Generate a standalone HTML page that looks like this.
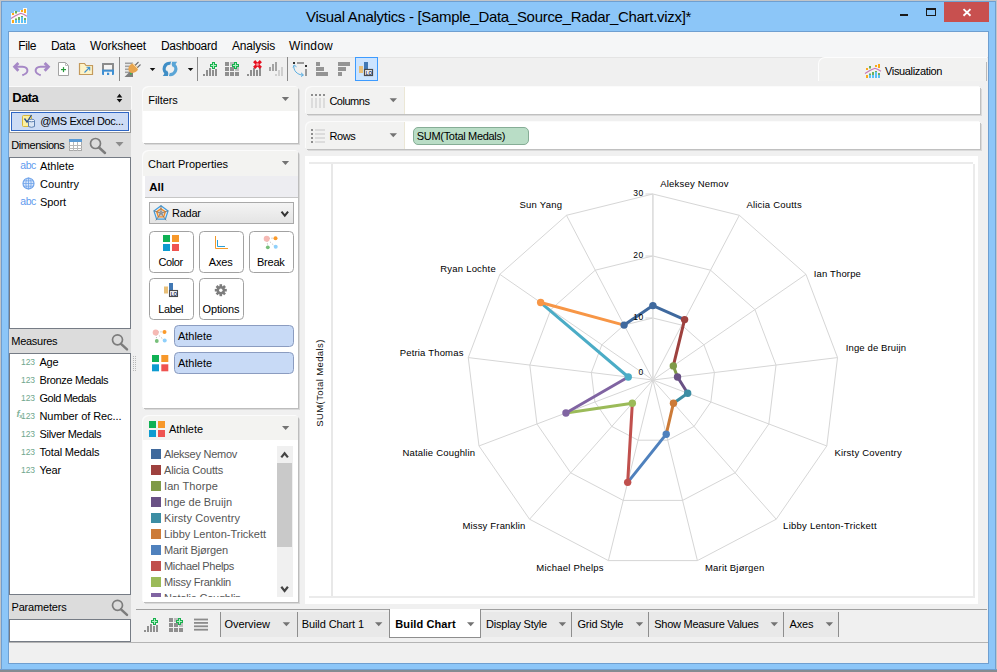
<!DOCTYPE html>
<html>
<head>
<meta charset="utf-8">
<title>Visual Analytics</title>
<style>
*{box-sizing:border-box;margin:0;padding:0}
html,body{width:997px;height:672px;overflow:hidden;background:#8cc6f8;font-family:"Liberation Sans",sans-serif;font-size:11px;color:#000}
div,span,svg{position:absolute}
svg{left:0;top:0;overflow:visible}
</style>
</head>
<body>
<!-- chrome -->
<div style="left:0px;top:0px;width:997px;height:672px;background:#8cc6f8;box-shadow:inset 0 0 0 1px #c2c4c7,inset 0 0 0 2px #6f9fd0;"></div><div style="left:0px;top:669px;width:997px;height:1px;background:#6f9fd0;"></div><div style="left:0px;top:670px;width:997px;height:2px;background:#858b91;"></div><div style="left:8px;top:31px;width:981px;height:633px;background:#6f9fd0;"></div><div style="left:9px;top:32px;width:979px;height:631px;background:#f0f0f0;"></div><span style="left:306.00px;top:9.00px;font-size:15px;line-height:15px;letter-spacing:-0.305px;color:#000;white-space:nowrap;">Visual Analytics - [Sample_Data_Source_Radar_Chart.vizx]*</span><svg width="40" height="32" viewBox="0 0 40 32">
<path d="M11 13 H14 V11 H17 V12 H20 V10 H23 V8 H27 V24 H11 Z" fill="#fbfaf6"/>
<rect x="12" y="13" width="2" height="2" fill="#fba919"/><rect x="12" y="20" width="2" height="3" fill="#fba919"/>
<rect x="15" y="11" width="2" height="2.500000" fill="#6aaf5c"/><rect x="15" y="18.500000" width="2" height="1.500000" fill="#6aaf5c"/><rect x="15" y="20" width="2" height="3" fill="#5bc0f5"/>
<rect x="18" y="17" width="2" height="3" fill="#6aaf5c"/><rect x="18" y="20" width="2" height="3" fill="#5bc0f5"/>
<rect x="21" y="10" width="2" height="2" fill="#fba919"/><rect x="21" y="16" width="2" height="1" fill="#6aaf5c"/><rect x="21" y="17" width="2" height="6" fill="#5bc0f5"/>
<rect x="24" y="9" width="2" height="4" fill="#fba919"/><rect x="24" y="18" width="2" height="2" fill="#6aaf5c"/><rect x="24" y="20" width="2" height="3" fill="#5bc0f5"/>
<path d="M11 18.500000 L15 16 L18 14.500000 L21 13.300000 L24 14.500000 L27 16.300000" fill="none" stroke="#c777b5" stroke-width="1.100000"/>
</svg><div style="left:900px;top:14px;width:8px;height:2px;background:#1a1a1a;"></div><div style="left:926px;top:8px;width:10px;height:8px;background:transparent;border:1px solid #1a1a1a;border-top-width:2px;"></div><div style="left:944px;top:2px;width:45px;height:20px;background:#c8504f;"></div><svg width="997" height="32"><path d="M963.500000 9.100000 L970.500000 15.700000 M970.500000 9.100000 L963.500000 15.700000" stroke="#fff" stroke-width="1.900000" fill="none"/></svg><div style="left:9px;top:32px;width:979px;height:25px;background:#f5f6f7;"></div><span style="left:18.20px;top:40.00px;font-size:12px;line-height:12px;letter-spacing:-0.334px;color:#000;white-space:nowrap;">File</span><span style="left:51.00px;top:40.00px;font-size:12px;line-height:12px;letter-spacing:-0.337px;color:#000;white-space:nowrap;">Data</span><span style="left:90.00px;top:40.00px;font-size:12px;line-height:12px;letter-spacing:-0.126px;color:#000;white-space:nowrap;">Worksheet</span><span style="left:161.00px;top:40.00px;font-size:12px;line-height:12px;letter-spacing:-0.300px;color:#000;white-space:nowrap;">Dashboard</span><span style="left:232.00px;top:40.00px;font-size:12px;line-height:12px;letter-spacing:-0.210px;color:#000;white-space:nowrap;">Analysis</span><span style="left:289.00px;top:40.00px;font-size:12px;line-height:12px;letter-spacing:0.220px;color:#000;white-space:nowrap;">Window</span><div style="left:9px;top:57px;width:979px;height:29px;background:#f0f0f0;border-top:1px solid #e4e4e4;"></div><svg style="left:0;top:0" width="997" height="90" viewBox="0 0 997 90">
<!-- undo -->
<g fill="none" stroke="#a688c6"><path d="M18.400000 62.900000 L14.600000 66.800000 L18.400000 70.800000" stroke-width="2.800000"/><path d="M14.500000 66.800000 H22.500000 C26 66.800000 27.600000 68.800000 27.400000 71 C27.100000 73.400000 24.800000 74.400000 22.300000 75.200000" stroke-width="2"/></g>
<!-- redo -->
<g transform="translate(63.050000,0) scale(-1,1)"><g fill="none" stroke="#a688c6"><path d="M18.400000 62.900000 L14.600000 66.800000 L18.400000 70.800000" stroke-width="2.800000"/><path d="M14.500000 66.800000 H22.500000 C26 66.800000 27.600000 68.800000 27.400000 71 C27.100000 73.400000 24.800000 74.400000 22.300000 75.200000" stroke-width="2"/></g></g>
<!-- new doc -->
<path d="M58.500000 62.500000 H65.500000 L68.500000 65.500000 V75.500000 H58.500000 Z" fill="#fff" stroke="#a3a3a3" stroke-width="1"/>
<path d="M65.500000 62.500000 V65.500000 H68.500000" fill="none" stroke="#bdbdbd" stroke-width="1"/>
<rect x="61" y="69" width="5" height="1.200000" fill="#2a9a3c"/><rect x="62.900000" y="67.100000" width="1.200000" height="5" fill="#2a9a3c"/>
<!-- folder -->
<path d="M79.500000 63.500000 H84.500000 L86 65.500000 H92.500000 V74.500000 H79.500000 Z" fill="#fdf3c8" stroke="#c49a5c" stroke-width="1.2"/>
<path d="M84.5 72.5 L89.5 67.5 M86.5 67.3 H89.7 V70.5" stroke="#3b8fd0" stroke-width="1.1" fill="none"/>
<!-- save -->
<rect x="102" y="63" width="12" height="12" rx="1" fill="#3f8fd2"/>
<path d="M102 64 Q102 63 103 63 H113 Q114 63 114 64 V69.5 H102 Z" fill="#8b8b8b"/>
<rect x="104" y="65" width="8" height="4.500000" fill="#f4f4f4"/>
<rect x="104" y="71.700000" width="8" height="3.300000" fill="#f4f4f4"/>
<rect x="107" y="72.700000" width="2.200000" height="2.300000" fill="#3f8fd2"/>
<!-- sep -->
<rect x="119" y="57" width="1" height="24" fill="#8a8a8a"/>
<!-- plug icon -->
<g>
<rect x="125" y="62.5" width="8" height="1.6" fill="#a0a0a0"/>
<rect x="125" y="65.5" width="6" height="1.6" fill="#a0a0a0"/>
<rect x="125" y="68.5" width="5" height="1.6" fill="#a0a0a0"/>
<rect x="125" y="71.5" width="5" height="1.6" fill="#a0a0a0"/>
<path d="M124.500000 77 L131 70.500000 L133 72.500000 V77 Z" fill="#7d7d7d"/>
<path d="M134.500000 66 L138.500000 62 M137 68 L140.500000 64.500000" stroke="#6e6e6e" stroke-width="1.1"/>
<path d="M129 66.5 Q131.500000 62.500000 134 64 L137.500000 67.500000 Q139 70 135.500000 72 Q131.500000 74 129.500000 72 Q127.500000 69.500000 129 66.5 Z" fill="#e8a54e"/>
<path d="M132.500000 63.500000 L138 69" stroke="#f6d9a8" stroke-width="1"/>
<rect x="130" y="73" width="1.5" height="1.5" fill="#2fc043"/>
</g>
<path d="M149.800000 68 H155.300000 L152.550000 71 Z" fill="#111"/>
<!-- refresh -->
<path d="M170.800000 63.400000 A5.500000 5.500000 0 0 0 167.200000 73.700000" fill="none" stroke="#3f8ec6" stroke-width="3.200000"/>
<path d="M162.800000 76 H169.900000 L166.900000 70.300000 Z" fill="#3f8ec6"/>
<path d="M169.200000 74.400000 A5.500000 5.500000 0 0 0 172.800000 64.100000" fill="none" stroke="#5aa5d6" stroke-width="3.200000"/>
<path d="M177.200000 61.800000 H170.100000 L173.100000 67.500000 Z" fill="#5aa5d6"/>
<path d="M171.700000 61.500000 L170.900000 65 M169.100000 72.800000 L168.300000 76.300000" stroke="#f0f0f0" stroke-width="1"/>
<path d="M187.800000 68 H193.300000 L190.550000 71 Z" fill="#111"/>
<rect x="197" y="57" width="1" height="24" fill="#8a8a8a"/>
<!-- chart+plus -->
<g fill="#8f8f8f">
<rect x="203" y="74" width="2" height="2"/><rect x="206" y="70" width="2" height="6"/><rect x="209" y="68" width="2" height="8"/><rect x="212" y="70" width="2" height="6"/><rect x="215" y="69" width="2" height="7"/>
</g>
<path d="M212 62 h3 v2 h2 v3 h-2 v2 h-3 v-2 h-2 v-3 h2 z" fill="#19b04e"/><path d="M213 63 h1 v2 h2 v1 h-2 v2 h-1 v-2 h-2 v-1 h2 z" fill="#aef0c2"/>
<!-- grid+plus -->
<g fill="#8f8f8f">
<rect x="225" y="62" width="4" height="4"/><rect x="230" y="62" width="4" height="4" fill="#bdbdbd"/>
<rect x="225" y="67" width="4" height="4"/><rect x="230" y="67" width="4" height="4"/><rect x="235" y="67" width="4" height="4" fill="#bdbdbd"/>
<rect x="225" y="72" width="4" height="4"/><rect x="230" y="72" width="4" height="4"/><rect x="235" y="72" width="4" height="4"/>
</g>
<path d="M234 62 h3 v2 h2 v3 h-2 v2 h-3 v-2 h-2 v-3 h2 z" fill="#19b04e"/><path d="M235 63 h1 v2 h2 v1 h-2 v2 h-1 v-2 h-2 v-1 h2 z" fill="#aef0c2"/>
<!-- chart + red x -->
<g fill="#8f8f8f">
<rect x="247" y="74" width="2" height="2"/><rect x="250" y="70" width="2" height="6"/><rect x="253" y="68" width="2" height="8"/><rect x="256" y="70" width="2" height="6"/><rect x="259" y="68" width="2" height="8"/>
</g>
<path d="M255.200000 62.200000 L259.800000 66.800000 M259.800000 62.200000 L255.200000 66.800000" stroke="#e60f1f" stroke-width="3" stroke-linecap="square"/><rect x="256.300000" y="63.300000" width="2.400000" height="2.400000" fill="#f99aa2"/>
<!-- dim chart -->
<g fill="#a3a3a3">
<rect x="269" y="67" width="2" height="4"/><rect x="272" y="64" width="2" height="7"/><rect x="275" y="62" width="2" height="9"/>
</g>
<g fill="#cfcfcf">
<rect x="275" y="74" width="2" height="2"/><rect x="278" y="70" width="2" height="6"/><rect x="281" y="67" width="2" height="9"/>
</g>
<rect x="287" y="57" width="1" height="24" fill="#8a8a8a"/>
<!-- swap -->
<rect x="293" y="62" width="2" height="2" fill="#333"/><rect x="297" y="62" width="7" height="2" fill="#9a9a9a"/>
<rect x="305" y="65" width="2" height="2" fill="#333"/><rect x="305" y="69" width="2" height="7" fill="#9a9a9a"/>
<path d="M294 65.500000 C293 70 297 75 303 75" fill="none" stroke="#59aee2" stroke-width="1"/>
<path d="M293 67.500000 L294.200000 65 L296.500000 66.800000 M301 72.800000 L303.500000 75 L301 76.500000" fill="none" stroke="#59aee2" stroke-width="1"/>
<!-- sort asc -->
<g fill="#949494">
<rect x="316" y="62" width="4" height="4"/><rect x="316" y="67" width="8" height="4"/><rect x="316" y="72" width="12" height="4"/>
<rect x="338" y="62" width="12" height="4"/><rect x="338" y="67" width="8" height="4"/><rect x="338" y="72" width="4" height="4"/>
</g>
<!-- selected label btn -->
<rect x="355.500000" y="57.500000" width="22" height="23" fill="#cce4ff" stroke="#3d9bff" stroke-width="1"/>
<rect x="359" y="66" width="4" height="7" fill="#e8bf78"/>
<rect x="364" y="62" width="4" height="8" fill="#4178b4"/>
<rect x="364.500000" y="69.500000" width="8" height="6" fill="#f4f4f4" stroke="#4a4a4a" stroke-width="1.2"/>
<text x="365.800000" y="74.600000" font-family="Liberation Sans" font-size="4.5" font-weight="bold" fill="#1a2f5a">LO</text>
</svg>
<div style="left:818px;top:57px;width:169px;height:24px;background:#f2f2f1;border-radius:7px 0 0 0;border-top:1px solid #fdfdfd;border-left:1px solid #fdfdfd;"></div><div style="left:986px;top:62px;width:1px;height:19px;background:#b9b9b9;"></div><svg width="997" height="90" viewBox="0 0 997 90">
<g transform="translate(854,55)">
<rect x="12" y="13" width="2" height="2" fill="#fba919"/><rect x="12" y="20" width="2" height="3" fill="#fba919"/>
<rect x="15" y="11" width="2" height="2.500000" fill="#6aaf5c"/><rect x="15" y="18.500000" width="2" height="1.500000" fill="#6aaf5c"/><rect x="15" y="20" width="2" height="3" fill="#5bc0f5"/>
<rect x="18" y="17" width="2" height="3" fill="#6aaf5c"/><rect x="18" y="20" width="2" height="3" fill="#5bc0f5"/>
<rect x="21" y="10" width="2" height="2" fill="#fba919"/><rect x="21" y="16" width="2" height="1" fill="#6aaf5c"/><rect x="21" y="17" width="2" height="6" fill="#5bc0f5"/>
<rect x="24" y="9" width="2" height="4" fill="#fba919"/><rect x="24" y="18" width="2" height="2" fill="#6aaf5c"/><rect x="24" y="20" width="2" height="3" fill="#5bc0f5"/>
<path d="M11 18.500000 L15 16 L18 14.500000 L21 13.300000 L24 14.500000 L27 16.300000" fill="none" stroke="#c777b5" stroke-width="1.100000"/>
</g></svg><span style="left:885.00px;top:65.50px;font-size:11px;line-height:11px;letter-spacing:-0.350px;color:#000;white-space:nowrap;">Visualization</span><div style="left:136px;top:609px;width:851px;height:1px;background:#a0a0a0;"></div><div style="left:9px;top:642px;width:979px;height:1px;background:#b4b4b4;"></div>
<!-- left -->
<div style="left:9px;top:86px;width:123px;height:1px;background:#fafafa;"></div><div style="left:131px;top:86px;width:1px;height:23px;background:#f9f9f9;"></div><div style="left:9px;top:87px;width:122px;height:22px;background:#dcdcdc;"></div><span style="left:12.30px;top:91.00px;font-size:13px;line-height:13px;font-weight:bold;letter-spacing:-0.544px;color:#000;white-space:nowrap;">Data</span><svg width="997" height="672"><path d="M116.700000 97.400000 L119.500000 93.800000 L122.300000 97.400000 Z M116.700000 99 L119.500000 102.600000 L122.300000 99 Z" fill="#111"/></svg><div style="left:9px;top:109px;width:122px;height:24px;background:#dcdcdc;"></div><div style="left:9px;top:110px;width:122px;height:23px;background:#fff;border:1px solid #9a9a9a;"></div><div style="left:11px;top:112px;width:118px;height:19px;background:#cddcf5;border:1px solid #2f66c4;"></div><svg width="997" height="672">
<g transform="translate(-8,0)"><rect x="30.500000" y="115.500000" width="9" height="11" rx="1" fill="#fdf0a0" stroke="#d9b83a" stroke-width="1"/>
<path d="M32.500000 118.500000 L35 122 L39.500000 115" fill="none" stroke="#2b4f8c" stroke-width="1.300000"/>
<path d="M36.500000 120.500000 V126.500000 Q39.500000 128.200000 42.500000 126.500000 V120.500000" fill="#dbe6f5" stroke="#5c7fb0" stroke-width="1"/>
<ellipse cx="39.500000" cy="120.500000" rx="3" ry="1.300000" fill="#eef3fb" stroke="#5c7fb0" stroke-width="1"/>
</g></svg><span style="left:40.30px;top:115.50px;font-size:11px;line-height:11px;letter-spacing:-0.400px;color:#000;white-space:nowrap;">@MS Excel Doc...</span><div style="left:9px;top:133px;width:122px;height:24px;background:#dcdcdc;"></div><span style="left:11.30px;top:139.50px;font-size:11px;line-height:11px;letter-spacing:-0.446px;color:#000;white-space:nowrap;">Dimensions</span><svg width="997" height="672">
<rect x="69.500000" y="139.500000" width="12" height="11" fill="#fff" stroke="#a9a9a9" stroke-width="1"/>
<rect x="69" y="139" width="13" height="3" fill="#5b9bd5"/>
<path d="M73.500000 142 V151 M77.500000 142 V151 M69 145.500000 H82 M69 148.500000 H82" stroke="#b9b9b9" stroke-width="1" fill="none"/>
<circle cx="95.500000" cy="143.500000" r="5" fill="none" stroke="#7c7c7c" stroke-width="1.700000"/>
<path d="M99 147.500000 L105 153" stroke="#7c7c7c" stroke-width="2.500000" stroke-linecap="round"/>
<path d="M115.500000 142 H123.500000 L119.500000 146.500000 Z" fill="#8c8c8c"/>
</svg><div style="left:9px;top:157px;width:122px;height:172px;background:#fff;border:1px solid #767c85;"></div><span style="left:20.30px;top:159.75px;font-size:10.5px;line-height:10.5px;letter-spacing:-0.476px;color:#5f9bee;white-space:nowrap;">abc</span><span style="left:40.00px;top:160.50px;font-size:11px;line-height:11px;letter-spacing:-0.035px;color:#000;white-space:nowrap;">Athlete</span><svg width="997" height="672"><circle cx="28.500000" cy="183.5" r="5.500000" fill="#dbe8fb" stroke="#6fa3ea" stroke-width="1.200000"/><path d="M23 183.5 H34 M23.800000 180.8 H33.200000 M23.800000 186.2 H33.200000 M28.500000 178 V189" stroke="#6fa3ea" stroke-width="0.800000" fill="none"/><ellipse cx="28.500000" cy="183.5" rx="2.600000" ry="5.500000" fill="none" stroke="#6fa3ea" stroke-width="0.800000"/></svg><span style="left:40.00px;top:178.50px;font-size:11px;line-height:11px;letter-spacing:0.069px;color:#000;white-space:nowrap;">Country</span><span style="left:20.30px;top:195.75px;font-size:10.5px;line-height:10.5px;letter-spacing:-0.476px;color:#5f9bee;white-space:nowrap;">abc</span><span style="left:40.00px;top:196.50px;font-size:11px;line-height:11px;letter-spacing:-0.058px;color:#000;white-space:nowrap;">Sport</span><div style="left:9px;top:329px;width:122px;height:24px;background:#dcdcdc;"></div><span style="left:11.30px;top:335.50px;font-size:11px;line-height:11px;letter-spacing:-0.287px;color:#000;white-space:nowrap;">Measures</span><svg width="997" height="672">
<circle cx="117.500000" cy="339.800000" r="5" fill="none" stroke="#7c7c7c" stroke-width="1.700000"/>
<path d="M121 343.800000 L127 349.300000" stroke="#7c7c7c" stroke-width="2.500000" stroke-linecap="round"/>
</svg><div style="left:9px;top:353px;width:122px;height:242px;background:#fff;border:1px solid #767c85;"></div><span style="left:21.00px;top:357.75px;font-size:8.5px;line-height:8.5px;letter-spacing:-0.060px;color:#6fa78d;white-space:nowrap;">123</span><span style="left:39.50px;top:356.50px;font-size:11px;line-height:11px;letter-spacing:-0.257px;color:#000;white-space:nowrap;">Age</span><span style="left:21.00px;top:375.75px;font-size:8.5px;line-height:8.5px;letter-spacing:-0.060px;color:#6fa78d;white-space:nowrap;">123</span><span style="left:39.50px;top:374.50px;font-size:11px;line-height:11px;letter-spacing:-0.359px;color:#000;white-space:nowrap;">Bronze Medals</span><span style="left:21.00px;top:393.75px;font-size:8.5px;line-height:8.5px;letter-spacing:-0.060px;color:#6fa78d;white-space:nowrap;">123</span><span style="left:39.50px;top:392.50px;font-size:11px;line-height:11px;letter-spacing:-0.477px;color:#000;white-space:nowrap;">Gold Medals</span><span style="left:21.00px;top:411.75px;font-size:8.5px;line-height:8.5px;letter-spacing:-0.060px;color:#6fa78d;white-space:nowrap;">123</span><span style="left:39.50px;top:410.50px;font-size:11px;line-height:11px;letter-spacing:-0.071px;color:#000;white-space:nowrap;">Number of Rec...</span><span style="left:16.60px;top:408.75px;font-size:9.5px;line-height:9.5px;font-weight:bold;color:#7fb39b;white-space:nowrap;font-style:italic;">f</span><span style="left:19.30px;top:413.00px;font-size:6px;line-height:6px;font-weight:bold;color:#7fb39b;white-space:nowrap;">x</span><span style="left:21.00px;top:429.75px;font-size:8.5px;line-height:8.5px;letter-spacing:-0.060px;color:#6fa78d;white-space:nowrap;">123</span><span style="left:39.50px;top:428.50px;font-size:11px;line-height:11px;letter-spacing:-0.325px;color:#000;white-space:nowrap;">Silver Medals</span><span style="left:21.00px;top:447.75px;font-size:8.5px;line-height:8.5px;letter-spacing:-0.060px;color:#6fa78d;white-space:nowrap;">123</span><span style="left:39.50px;top:446.50px;font-size:11px;line-height:11px;letter-spacing:-0.162px;color:#000;white-space:nowrap;">Total Medals</span><span style="left:21.00px;top:465.75px;font-size:8.5px;line-height:8.5px;letter-spacing:-0.060px;color:#6fa78d;white-space:nowrap;">123</span><span style="left:39.50px;top:464.50px;font-size:11px;line-height:11px;letter-spacing:-0.206px;color:#000;white-space:nowrap;">Year</span><svg width="997" height="672"><rect x="133" y="356" width="1" height="1" fill="#b8b8b8"/><rect x="135" y="356" width="1" height="1" fill="#b8b8b8"/><rect x="133" y="358" width="1" height="1" fill="#b8b8b8"/><rect x="135" y="358" width="1" height="1" fill="#b8b8b8"/><rect x="133" y="360" width="1" height="1" fill="#b8b8b8"/><rect x="135" y="360" width="1" height="1" fill="#b8b8b8"/><rect x="133" y="362" width="1" height="1" fill="#b8b8b8"/><rect x="135" y="362" width="1" height="1" fill="#b8b8b8"/><rect x="133" y="364" width="1" height="1" fill="#b8b8b8"/><rect x="135" y="364" width="1" height="1" fill="#b8b8b8"/><rect x="133" y="366" width="1" height="1" fill="#b8b8b8"/><rect x="135" y="366" width="1" height="1" fill="#b8b8b8"/><rect x="133" y="368" width="1" height="1" fill="#b8b8b8"/><rect x="135" y="368" width="1" height="1" fill="#b8b8b8"/><rect x="133" y="370" width="1" height="1" fill="#b8b8b8"/><rect x="135" y="370" width="1" height="1" fill="#b8b8b8"/></svg><div style="left:9px;top:595px;width:122px;height:24px;background:#dcdcdc;"></div><span style="left:11.50px;top:601.50px;font-size:11px;line-height:11px;letter-spacing:-0.185px;color:#000;white-space:nowrap;">Parameters</span><svg width="997" height="672">
<circle cx="117.500000" cy="605.300000" r="5" fill="none" stroke="#7c7c7c" stroke-width="1.700000"/>
<path d="M121 609.300000 L127 614.800000" stroke="#7c7c7c" stroke-width="2.500000" stroke-linecap="round"/>
</svg><div style="left:9px;top:619px;width:122px;height:23px;background:#fff;border:1px solid #767c85;"></div>
<!-- mid -->
<div style="left:143px;top:87px;width:155px;height:56px;background:#fff;border-radius:6px 2px 0 0;box-shadow:1px 1px 0 #bdbdbd,2px 2px 0 #d9d9d9,-1px -1px 0 #fbfbfb;"></div><div style="left:143px;top:87px;width:155px;height:24px;background:#f3f3f1;border-radius:6px 2px 0 0;"></div><span style="left:148.30px;top:94.50px;font-size:11px;line-height:11px;letter-spacing:-0.063px;color:#000;white-space:nowrap;">Filters</span><svg width="997" height="672"><path d="M281.8 97 H289.1 L285.45 101 Z" fill="#737373"/></svg><div style="left:143px;top:151px;width:155px;height:257px;background:#fff;border-radius:6px 2px 0 0;box-shadow:1px 1px 0 #bdbdbd,2px 2px 0 #d9d9d9,-1px -1px 0 #fbfbfb;"></div><div style="left:143px;top:151px;width:155px;height:25px;background:#f3f3f1;border-radius:6px 2px 0 0;"></div><span style="left:148.00px;top:158.50px;font-size:11px;line-height:11px;letter-spacing:-0.005px;color:#000;white-space:nowrap;">Chart Properties</span><svg width="997" height="672"><path d="M281.8 161 H289.1 L285.45 165 Z" fill="#737373"/></svg><div style="left:145px;top:176px;width:153px;height:22px;background:#ededf1;border-bottom:1px solid #c6c6c6;"></div><span style="left:149.30px;top:182.25px;font-size:11.5px;line-height:11.5px;font-weight:bold;letter-spacing:-0.065px;color:#000;white-space:nowrap;">All</span><div style="left:149px;top:202px;width:145px;height:22px;background:linear-gradient(#f4f4f4,#e4e4e4);border:1px solid #a9a9a9;"></div><svg width="997" height="672"><g transform="translate(153,204.500000)">
<polygon points="8.00,1.30 15.04,6.41 12.35,14.69 3.65,14.69 0.96,6.41" fill="none" stroke="#3f9bdc" stroke-width="1.200000"/>
<polygon points="8.00,4.20 12.28,7.31 10.65,12.34 5.35,12.34 3.72,7.31" fill="none" stroke="#f28c28" stroke-width="1.400000"/>
<path d="M8.00 8.70 L8.00 1.10 M8.00 8.70 L15.23 6.35 M8.00 8.70 L13.23 15.90 M8.00 8.70 L2.77 15.90 M8.00 8.70 L0.77 6.35 " stroke="#707070" stroke-width="0.800000" fill="none"/>
<polygon points="8.00,6.50 10.09,8.02 9.29,10.48 6.71,10.48 5.91,8.02" fill="none" stroke="#808080" stroke-width="0.700000"/>
</g>
<path d="M281.500000 211.700000 L284.800000 215.700000 L288.100000 211.700000" fill="none" stroke="#333" stroke-width="2"/>
</svg><span style="left:172.00px;top:207.50px;font-size:11px;line-height:11px;letter-spacing:-0.252px;color:#000;white-space:nowrap;">Radar</span><div style="left:149px;top:231px;width:45px;height:42px;background:#fff;border:1px solid #a2a2a2;border-radius:4.500000px;"></div><div style="left:199px;top:231px;width:45px;height:42px;background:#fff;border:1px solid #a2a2a2;border-radius:4.500000px;"></div><div style="left:249px;top:231px;width:45px;height:42px;background:#fff;border:1px solid #a2a2a2;border-radius:4.500000px;"></div><div style="left:149px;top:278px;width:45px;height:42px;background:#fff;border:1px solid #a2a2a2;border-radius:4.500000px;"></div><div style="left:199px;top:278px;width:45px;height:42px;background:#fff;border:1px solid #a2a2a2;border-radius:4.500000px;"></div><svg width="997" height="672"><rect x="163" y="235" width="7" height="7" fill="#0fb154"/><rect x="172" y="235" width="7" height="7" fill="#f7982a"/><rect x="163" y="244" width="7" height="7" fill="#0d9bd0"/><rect x="172" y="244" width="7" height="7" fill="#ef5350"/></svg><span style="left:158.40px;top:256.50px;font-size:11px;line-height:11px;letter-spacing:-0.357px;color:#000;white-space:nowrap;">Color</span><svg width="997" height="672"><path d="M215.500000 236 V248.500000 H228" fill="none" stroke="#f39a2b" stroke-width="1"/><path d="M217.500000 240 V246.500000 H225" fill="none" stroke="#2a9fd6" stroke-width="1"/></svg><span style="left:208.80px;top:256.50px;font-size:11px;line-height:11px;letter-spacing:-0.189px;color:#000;white-space:nowrap;">Axes</span><svg width="997" height="672"><g transform="translate(263.5,235.5)">
<path d="M3 3 L11 2.500000 M3 3 L4.500000 11.500000 M3 3 L11.500000 11" stroke="#9a9a9a" stroke-width="0.800000" stroke-dasharray="1 1.500000" fill="none"/>
<circle cx="3.200000" cy="3.200000" r="3" fill="#f6b9b4"/>
<circle cx="12" cy="2.800000" r="2" fill="#fb9a2a"/>
<circle cx="4.300000" cy="11.800000" r="1.900000" fill="#77bf7a"/>
<circle cx="12.200000" cy="11.200000" r="2" fill="#8fd0fb"/>
</g></svg><span style="left:257.00px;top:256.50px;font-size:11px;line-height:11px;letter-spacing:-0.227px;color:#000;white-space:nowrap;">Break</span><svg width="997" height="672">
<rect x="164" y="286.500000" width="4" height="7" fill="#e8bf78"/>
<rect x="169" y="283" width="4" height="8" fill="#4178b4"/>
<rect x="169.500000" y="290.500000" width="8" height="6" fill="#f4f4f4" stroke="#4a4a4a" stroke-width="1.100000"/>
<text x="170.800000" y="295.500000" font-family="Liberation Sans" font-size="4.500000" font-weight="bold" fill="#1a2f5a">LO</text>
</svg><span style="left:158.30px;top:303.50px;font-size:11px;line-height:11px;letter-spacing:-0.442px;color:#000;white-space:nowrap;">Label</span><svg width="997" height="672"><g transform="translate(220.800000,290.200000)" fill="#7d7d7d"><rect x="-1.300000" y="-6" width="2.600000" height="3.200000" transform="rotate(0)"/><rect x="-1.300000" y="-6" width="2.600000" height="3.200000" transform="rotate(45)"/><rect x="-1.300000" y="-6" width="2.600000" height="3.200000" transform="rotate(90)"/><rect x="-1.300000" y="-6" width="2.600000" height="3.200000" transform="rotate(135)"/><rect x="-1.300000" y="-6" width="2.600000" height="3.200000" transform="rotate(180)"/><rect x="-1.300000" y="-6" width="2.600000" height="3.200000" transform="rotate(225)"/><rect x="-1.300000" y="-6" width="2.600000" height="3.200000" transform="rotate(270)"/><rect x="-1.300000" y="-6" width="2.600000" height="3.200000" transform="rotate(315)"/><circle r="4.200000"/><circle r="1.700000" fill="#fff"/></g></svg><span style="left:202.50px;top:303.50px;font-size:11px;line-height:11px;letter-spacing:-0.144px;color:#000;white-space:nowrap;">Options</span><div style="left:174px;top:325px;width:120px;height:22px;background:#c8daf6;border:1px solid #8b9cc0;border-radius:4.500000px;"></div><div style="left:174px;top:352px;width:120px;height:22px;background:#c8daf6;border:1px solid #8b9cc0;border-radius:4.500000px;"></div><span style="left:178.00px;top:330.50px;font-size:11px;line-height:11px;letter-spacing:-0.035px;color:#000;white-space:nowrap;">Athlete</span><span style="left:178.00px;top:357.50px;font-size:11px;line-height:11px;letter-spacing:-0.035px;color:#000;white-space:nowrap;">Athlete</span><svg width="997" height="672"><g transform="translate(152.5,329.2)">
<path d="M3 3 L11 2.500000 M3 3 L4.500000 11.500000 M3 3 L11.500000 11" stroke="#9a9a9a" stroke-width="0.800000" stroke-dasharray="1 1.500000" fill="none"/>
<circle cx="3.200000" cy="3.200000" r="3" fill="#f6b9b4"/>
<circle cx="12" cy="2.800000" r="2" fill="#fb9a2a"/>
<circle cx="4.300000" cy="11.800000" r="1.900000" fill="#77bf7a"/>
<circle cx="12.200000" cy="11.200000" r="2" fill="#8fd0fb"/>
</g></svg><svg width="997" height="672"><rect x="152" y="355" width="7" height="7" fill="#0fb154"/><rect x="161.3" y="355" width="7" height="7" fill="#f7982a"/><rect x="152" y="364.3" width="7" height="7" fill="#0d9bd0"/><rect x="161.3" y="364.3" width="7" height="7" fill="#ef5350"/></svg><div style="left:143px;top:416px;width:155px;height:186px;background:#fff;border-radius:6px 2px 0 0;box-shadow:1px 1px 0 #bdbdbd,2px 2px 0 #d9d9d9,-1px -1px 0 #fbfbfb;"></div><div style="left:143px;top:416px;width:155px;height:24px;background:#f3f3f1;border-radius:6px 2px 0 0;"></div><svg width="997" height="672"><rect x="149" y="421" width="7" height="7" fill="#0fb154"/><rect x="158" y="421" width="7" height="7" fill="#f7982a"/><rect x="149" y="430" width="7" height="7" fill="#0d9bd0"/><rect x="158" y="430" width="7" height="7" fill="#ef5350"/></svg><span style="left:169.00px;top:423.50px;font-size:11px;line-height:11px;letter-spacing:-0.035px;color:#000;white-space:nowrap;">Athlete</span><svg width="997" height="672"><path d="M282 426 H289.3 L285.65 430 Z" fill="#737373"/></svg><div style="left:0;top:444px;width:276px;height:153px;overflow:hidden"><div style="left:151px;top:5px;width:10px;height:10px;background:#40699c;"></div><span style="left:164.00px;top:4.50px;font-size:11px;line-height:11px;letter-spacing:-0.262px;color:#555;white-space:nowrap;">Aleksey Nemov</span><div style="left:151px;top:21px;width:10px;height:10px;background:#9e413e;"></div><span style="left:164.00px;top:20.50px;font-size:11px;line-height:11px;letter-spacing:-0.164px;color:#555;white-space:nowrap;">Alicia Coutts</span><div style="left:151px;top:37px;width:10px;height:10px;background:#7f9a48;"></div><span style="left:164.00px;top:36.50px;font-size:11px;line-height:11px;letter-spacing:0.100px;color:#555;white-space:nowrap;">Ian Thorpe</span><div style="left:151px;top:53px;width:10px;height:10px;background:#695185;"></div><span style="left:164.00px;top:52.50px;font-size:11px;line-height:11px;letter-spacing:0.009px;color:#555;white-space:nowrap;">Inge de Bruijn</span><div style="left:151px;top:69px;width:10px;height:10px;background:#3c8da3;"></div><span style="left:164.00px;top:68.50px;font-size:11px;line-height:11px;letter-spacing:0.095px;color:#555;white-space:nowrap;">Kirsty Coventry</span><div style="left:151px;top:85px;width:10px;height:10px;background:#cc7b38;"></div><span style="left:164.00px;top:84.50px;font-size:11px;line-height:11px;letter-spacing:-0.014px;color:#555;white-space:nowrap;">Libby Lenton-Trickett</span><div style="left:151px;top:101px;width:10px;height:10px;background:#4f81bd;"></div><span style="left:164.00px;top:100.50px;font-size:11px;line-height:11px;letter-spacing:-0.155px;color:#555;white-space:nowrap;">Marit Bjørgen</span><div style="left:151px;top:117px;width:10px;height:10px;background:#c0504d;"></div><span style="left:164.00px;top:116.50px;font-size:11px;line-height:11px;letter-spacing:-0.328px;color:#555;white-space:nowrap;">Michael Phelps</span><div style="left:151px;top:133px;width:10px;height:10px;background:#9bbb59;"></div><span style="left:164.00px;top:132.50px;font-size:11px;line-height:11px;letter-spacing:-0.235px;color:#555;white-space:nowrap;">Missy Franklin</span><div style="left:151px;top:149px;width:10px;height:10px;background:#8064a2;"></div><span style="left:164.00px;top:148.50px;font-size:11px;line-height:11px;letter-spacing:-0.232px;color:#555;white-space:nowrap;">Natalie Coughlin</span></div><div style="left:277px;top:446px;width:16px;height:151px;background:#f0f0f0;"></div><div style="left:277px;top:463px;width:15px;height:84px;background:#c9c9c9;"></div><svg width="997" height="672"><path d="M281.300000 457.400000 L284.600000 453.200000 L287.900000 457.400000" fill="none" stroke="#444" stroke-width="2.200000"/><path d="M281.300000 586.800000 L284.600000 591 L287.900000 586.800000" fill="none" stroke="#444" stroke-width="2.200000"/></svg>
<!-- right -->
<div style="left:306px;top:87px;width:674px;height:27px;background:#fff;border-radius:6px 0 0 0;box-shadow:1px 1px 0 #c0c0c0,2px 2px 0 #dadada,-1px -1px 0 #fbfbfb;"></div><div style="left:306px;top:87px;width:98px;height:27px;background:#f2f2f1;border-radius:6px 0 0 0;"></div><div style="left:404px;top:87px;width:1px;height:27px;background:#ebe7d6;"></div><div style="left:306px;top:122px;width:674px;height:27px;background:#fff;border-radius:6px 0 0 0;box-shadow:1px 1px 0 #c0c0c0,2px 2px 0 #dadada,-1px -1px 0 #fbfbfb;"></div><div style="left:306px;top:122px;width:98px;height:27px;background:#f2f2f1;border-radius:6px 0 0 0;"></div><div style="left:404px;top:122px;width:1px;height:27px;background:#ebe7d6;"></div><svg width="997" height="672"><rect x="311" y="94" width="2" height="2" fill="#8e8e8e"/><rect x="311" y="98" width="2" height="10" fill="#dcdcdc"/><rect x="315" y="94" width="2" height="2" fill="#8e8e8e"/><rect x="315" y="98" width="2" height="10" fill="#dcdcdc"/><rect x="319" y="94" width="2" height="2" fill="#8e8e8e"/><rect x="319" y="98" width="2" height="10" fill="#dcdcdc"/><rect x="323" y="94" width="2" height="2" fill="#8e8e8e"/><rect x="323" y="98" width="2" height="10" fill="#dcdcdc"/><rect x="311" y="129" width="2" height="2" fill="#8e8e8e"/><rect x="315" y="129" width="10" height="2" fill="#dcdcdc"/><rect x="311" y="133" width="2" height="2" fill="#8e8e8e"/><rect x="315" y="133" width="10" height="2" fill="#dcdcdc"/><rect x="311" y="137" width="2" height="2" fill="#8e8e8e"/><rect x="315" y="137" width="10" height="2" fill="#dcdcdc"/><rect x="311" y="141" width="2" height="2" fill="#8e8e8e"/><rect x="315" y="141" width="10" height="2" fill="#dcdcdc"/></svg><span style="left:329.40px;top:95.50px;font-size:11px;line-height:11px;letter-spacing:-0.486px;color:#000;white-space:nowrap;">Columns</span><span style="left:329.40px;top:130.50px;font-size:11px;line-height:11px;letter-spacing:-0.376px;color:#000;white-space:nowrap;">Rows</span><svg width="997" height="672"><path d="M389.6 98.3 H397 L393.3 102.3 Z" fill="#737373"/></svg><svg width="997" height="672"><path d="M389.6 133.2 H397 L393.3 137.2 Z" fill="#737373"/></svg><div style="left:413px;top:127px;width:116px;height:18px;background:#b9ddc6;border:1px solid #86ad96;border-radius:5px;"></div><span style="left:416.80px;top:130.50px;font-size:11px;line-height:11px;letter-spacing:-0.313px;color:#000;white-space:nowrap;">SUM(Total Medals)</span><div style="left:305px;top:156px;width:673px;height:448px;background:#fff;"></div><div style="left:309px;top:162px;width:664px;height:2px;background:#ebebeb;"></div><div style="left:309px;top:596px;width:666px;height:2px;background:#ebebeb;"></div><div style="left:973px;top:164px;width:2px;height:432px;background:#ebebeb;"></div><div style="left:331px;top:164px;width:1.5px;height:432px;background:#e8e8e8;"></div><span style="left:320px;top:382.500000px;font-size:9.500000px;line-height:10px;white-space:nowrap;transform:translate(-50%,-50%) rotate(-90deg);letter-spacing:0.390000px;color:#111">SUM(Total Medals)</span><svg width="997" height="672"><polygon points="652.90,318.00 681.71,325.10 703.92,344.78 714.45,372.53 710.87,401.99 694.01,426.41 667.74,440.20 638.06,440.20 611.79,426.41 594.93,401.99 591.35,372.53 601.88,344.78 624.09,325.10" fill="none" stroke="#d6d6d6" stroke-width="1"/><polygon points="652.90,256.00 710.53,270.20 754.95,309.56 776.00,365.05 768.84,423.97 735.13,472.82 682.58,500.40 623.22,500.40 570.67,472.82 536.96,423.97 529.80,365.05 550.85,309.56 595.27,270.20" fill="none" stroke="#d6d6d6" stroke-width="1"/><polygon points="652.90,194.00 739.34,215.31 805.97,274.34 837.54,357.58 826.81,445.96 776.24,519.22 697.41,560.60 608.39,560.60 529.56,519.22 478.99,445.96 468.26,357.58 499.83,274.34 566.46,215.31" fill="none" stroke="#d6d6d6" stroke-width="1"/><line x1="652.90" y1="380.00" x2="739.34" y2="215.31" stroke="#d6d6d6" stroke-width="1"/><line x1="652.90" y1="380.00" x2="805.97" y2="274.34" stroke="#d6d6d6" stroke-width="1"/><line x1="652.90" y1="380.00" x2="837.54" y2="357.58" stroke="#d6d6d6" stroke-width="1"/><line x1="652.90" y1="380.00" x2="826.81" y2="445.96" stroke="#d6d6d6" stroke-width="1"/><line x1="652.90" y1="380.00" x2="776.24" y2="519.22" stroke="#d6d6d6" stroke-width="1"/><line x1="652.90" y1="380.00" x2="697.41" y2="560.60" stroke="#d6d6d6" stroke-width="1"/><line x1="652.90" y1="380.00" x2="608.39" y2="560.60" stroke="#d6d6d6" stroke-width="1"/><line x1="652.90" y1="380.00" x2="529.56" y2="519.22" stroke="#d6d6d6" stroke-width="1"/><line x1="652.90" y1="380.00" x2="478.99" y2="445.96" stroke="#d6d6d6" stroke-width="1"/><line x1="652.90" y1="380.00" x2="468.26" y2="357.58" stroke="#d6d6d6" stroke-width="1"/><line x1="652.90" y1="380.00" x2="499.83" y2="274.34" stroke="#d6d6d6" stroke-width="1"/><line x1="652.90" y1="380.00" x2="566.46" y2="215.31" stroke="#d6d6d6" stroke-width="1"/><line x1="652.90" y1="380.00" x2="652.90" y2="194.00" stroke="#dcdcdc" stroke-width="1.600000"/><line x1="645.40" y1="318.00" x2="652.90" y2="318.00" stroke="#d6d6d6" stroke-width="1"/><line x1="645.40" y1="256.00" x2="652.90" y2="256.00" stroke="#d6d6d6" stroke-width="1"/><line x1="645.40" y1="194.00" x2="652.90" y2="194.00" stroke="#d6d6d6" stroke-width="1"/><line x1="652.90" y1="305.60" x2="684.59" y2="319.61" stroke="#3f699e" stroke-width="3" stroke-linecap="round"/><line x1="684.59" y1="319.61" x2="673.31" y2="365.91" stroke="#9e413e" stroke-width="3" stroke-linecap="round"/><line x1="673.31" y1="365.91" x2="677.52" y2="377.01" stroke="#7f9a48" stroke-width="3" stroke-linecap="round"/><line x1="677.52" y1="377.01" x2="687.68" y2="393.19" stroke="#695185" stroke-width="3" stroke-linecap="round"/><line x1="687.68" y1="393.19" x2="673.46" y2="403.20" stroke="#3c8da3" stroke-width="3" stroke-linecap="round"/><line x1="673.46" y1="403.20" x2="666.25" y2="434.18" stroke="#cc7b38" stroke-width="3" stroke-linecap="round"/><line x1="666.25" y1="434.18" x2="627.68" y2="482.34" stroke="#4f81bd" stroke-width="3" stroke-linecap="round"/><line x1="627.68" y1="482.34" x2="632.34" y2="403.20" stroke="#c0504d" stroke-width="3" stroke-linecap="round"/><line x1="632.34" y1="403.20" x2="565.94" y2="412.98" stroke="#9bbb59" stroke-width="3" stroke-linecap="round"/><line x1="565.94" y1="412.98" x2="628.28" y2="377.01" stroke="#8064a2" stroke-width="3" stroke-linecap="round"/><line x1="628.28" y1="377.01" x2="540.65" y2="302.52" stroke="#4bacc6" stroke-width="3" stroke-linecap="round"/><line x1="540.65" y1="302.52" x2="624.09" y2="325.10" stroke="#f79646" stroke-width="3" stroke-linecap="round"/><line x1="624.09" y1="325.10" x2="652.90" y2="305.60" stroke="#3f699e" stroke-width="3" stroke-linecap="round"/><circle cx="652.90" cy="305.60" r="3.700000" fill="#3f699e"/><circle cx="684.59" cy="319.61" r="3.700000" fill="#9e413e"/><circle cx="673.31" cy="365.91" r="3.700000" fill="#7f9a48"/><circle cx="677.52" cy="377.01" r="3.700000" fill="#695185"/><circle cx="687.68" cy="393.19" r="3.700000" fill="#3c8da3"/><circle cx="673.46" cy="403.20" r="3.700000" fill="#cc7b38"/><circle cx="666.25" cy="434.18" r="3.700000" fill="#4f81bd"/><circle cx="627.68" cy="482.34" r="3.700000" fill="#c0504d"/><circle cx="632.34" cy="403.20" r="3.700000" fill="#9bbb59"/><circle cx="565.94" cy="412.98" r="3.700000" fill="#8064a2"/><circle cx="628.28" cy="377.01" r="3.700000" fill="#4bacc6"/><circle cx="540.65" cy="302.52" r="3.700000" fill="#f79646"/><circle cx="624.09" cy="325.10" r="3.700000" fill="#3f699e"/></svg><span style="left:633.20px;top:188.75px;font-size:8.5px;line-height:8.5px;letter-spacing:0.673px;color:#000;white-space:nowrap;">30</span><span style="left:633.20px;top:250.75px;font-size:8.5px;line-height:8.5px;letter-spacing:0.673px;color:#000;white-space:nowrap;">20</span><span style="left:633.20px;top:312.75px;font-size:8.5px;line-height:8.5px;letter-spacing:0.673px;color:#000;white-space:nowrap;">10</span><span style="left:638.40px;top:367.75px;font-size:8.5px;line-height:8.5px;letter-spacing:0.073px;color:#000;white-space:nowrap;">0</span><span style="left:660.20px;top:178.75px;font-size:9.5px;line-height:9.5px;letter-spacing:0.201px;color:#000;white-space:nowrap;">Aleksey Nemov</span><span style="left:746.40px;top:199.75px;font-size:9.5px;line-height:9.5px;letter-spacing:0.208px;color:#000;white-space:nowrap;">Alicia Coutts</span><span style="left:813.80px;top:268.75px;font-size:9.5px;line-height:9.5px;letter-spacing:0.143px;color:#000;white-space:nowrap;">Ian Thorpe</span><span style="left:845.70px;top:342.75px;font-size:9.5px;line-height:9.5px;letter-spacing:0.134px;color:#000;white-space:nowrap;">Inge de Bruijn</span><span style="left:834.40px;top:447.75px;font-size:9.5px;line-height:9.5px;letter-spacing:0.207px;color:#000;white-space:nowrap;">Kirsty Coventry</span><span style="left:783.10px;top:520.75px;font-size:9.5px;line-height:9.5px;letter-spacing:0.259px;color:#000;white-space:nowrap;">Libby Lenton-Trickett</span><span style="left:705.00px;top:562.75px;font-size:9.5px;line-height:9.5px;letter-spacing:0.184px;color:#000;white-space:nowrap;">Marit Bjørgen</span><span style="left:536.30px;top:562.75px;font-size:9.5px;line-height:9.5px;letter-spacing:0.213px;color:#000;white-space:nowrap;">Michael Phelps</span><span style="left:462.40px;top:520.75px;font-size:9.5px;line-height:9.5px;letter-spacing:0.171px;color:#000;white-space:nowrap;">Missy Franklin</span><span style="left:402.40px;top:447.75px;font-size:9.5px;line-height:9.5px;letter-spacing:0.193px;color:#000;white-space:nowrap;">Natalie Coughlin</span><span style="left:399.70px;top:347.75px;font-size:9.5px;line-height:9.5px;letter-spacing:0.177px;color:#000;white-space:nowrap;">Petria Thomas</span><span style="left:440.30px;top:263.75px;font-size:9.5px;line-height:9.5px;letter-spacing:0.206px;color:#000;white-space:nowrap;">Ryan Lochte</span><span style="left:519.40px;top:199.75px;font-size:9.5px;line-height:9.5px;letter-spacing:0.269px;color:#000;white-space:nowrap;">Sun Yang</span>
<!-- bottom -->
<div style="left:221px;top:612px;width:617px;height:25px;background:#e9e9e9;"></div><div style="left:389px;top:609px;width:92px;height:29px;background:#fff;border:1px solid #8e8e8e;border-top:none;"></div><div style="left:220px;top:612px;width:1px;height:25px;background:#8e8e8e;"></div><span style="left:224.40px;top:618.50px;font-size:11px;line-height:11px;letter-spacing:-0.030px;color:#000;white-space:nowrap;">Overview</span><svg width="997" height="672"><path d="M282.7 622.2 H290.1 L286.4 626.2 Z" fill="#737373"/></svg><div style="left:297px;top:612px;width:1px;height:25px;background:#8e8e8e;"></div><span style="left:301.80px;top:618.50px;font-size:11px;line-height:11px;letter-spacing:-0.114px;color:#000;white-space:nowrap;">Build Chart 1</span><svg width="997" height="672"><path d="M375 622.2 H382.4 L378.7 626.2 Z" fill="#737373"/></svg><span style="left:395.30px;top:618.50px;font-size:11px;line-height:11px;font-weight:bold;letter-spacing:0.102px;color:#000;white-space:nowrap;">Build Chart</span><svg width="997" height="672"><path d="M467 622.2 H474.4 L470.7 626.2 Z" fill="#737373"/></svg><span style="left:486.00px;top:618.50px;font-size:11px;line-height:11px;letter-spacing:-0.198px;color:#000;white-space:nowrap;">Display Style</span><svg width="997" height="672"><path d="M558.7 622.2 H566.1 L562.4 626.2 Z" fill="#737373"/></svg><div style="left:571px;top:612px;width:1px;height:25px;background:#8e8e8e;"></div><span style="left:577.50px;top:618.50px;font-size:11px;line-height:11px;letter-spacing:-0.259px;color:#000;white-space:nowrap;">Grid Style</span><svg width="997" height="672"><path d="M635.8 622.2 H643.2 L639.5 626.2 Z" fill="#737373"/></svg><div style="left:648px;top:612px;width:1px;height:25px;background:#8e8e8e;"></div><span style="left:654.20px;top:618.50px;font-size:11px;line-height:11px;letter-spacing:-0.255px;color:#000;white-space:nowrap;">Show Measure Values</span><svg width="997" height="672"><path d="M770.6 622.2 H778 L774.3 626.2 Z" fill="#737373"/></svg><div style="left:783px;top:612px;width:1px;height:25px;background:#8e8e8e;"></div><span style="left:789.60px;top:618.50px;font-size:11px;line-height:11px;letter-spacing:-0.164px;color:#000;white-space:nowrap;">Axes</span><svg width="997" height="672"><path d="M825.7 622.2 H833.1 L829.4 626.2 Z" fill="#737373"/></svg><div style="left:838px;top:612px;width:1px;height:25px;background:#8e8e8e;"></div><svg width="997" height="672"><g transform="translate(-59,556)"><!-- chart+plus -->
<g fill="#8f8f8f">
<rect x="203" y="74" width="2" height="2"/><rect x="206" y="70" width="2" height="6"/><rect x="209" y="68" width="2" height="8"/><rect x="212" y="70" width="2" height="6"/><rect x="215" y="69" width="2" height="7"/>
</g>
<path d="M212 62 h3 v2 h2 v3 h-2 v2 h-3 v-2 h-2 v-3 h2 z" fill="#19b04e"/><path d="M213 63 h1 v2 h2 v1 h-2 v2 h-1 v-2 h-2 v-1 h2 z" fill="#aef0c2"/>
</g><g transform="translate(-56,556)"><!-- grid+plus -->
<g fill="#8f8f8f">
<rect x="225" y="62" width="4" height="4"/><rect x="230" y="62" width="4" height="4" fill="#bdbdbd"/>
<rect x="225" y="67" width="4" height="4"/><rect x="230" y="67" width="4" height="4"/><rect x="235" y="67" width="4" height="4" fill="#bdbdbd"/>
<rect x="225" y="72" width="4" height="4"/><rect x="230" y="72" width="4" height="4"/><rect x="235" y="72" width="4" height="4"/>
</g>
<path d="M234 62 h3 v2 h2 v3 h-2 v2 h-3 v-2 h-2 v-3 h2 z" fill="#19b04e"/><path d="M235 63 h1 v2 h2 v1 h-2 v2 h-1 v-2 h-2 v-1 h2 z" fill="#aef0c2"/>
</g><rect x="194" y="618.6" width="14" height="1.800000" fill="#8c8c8c"/><rect x="194" y="622" width="14" height="1.800000" fill="#8c8c8c"/><rect x="194" y="625.4" width="14" height="1.800000" fill="#8c8c8c"/><rect x="194" y="628.8" width="14" height="1.800000" fill="#8c8c8c"/></svg>
</body>
</html>
